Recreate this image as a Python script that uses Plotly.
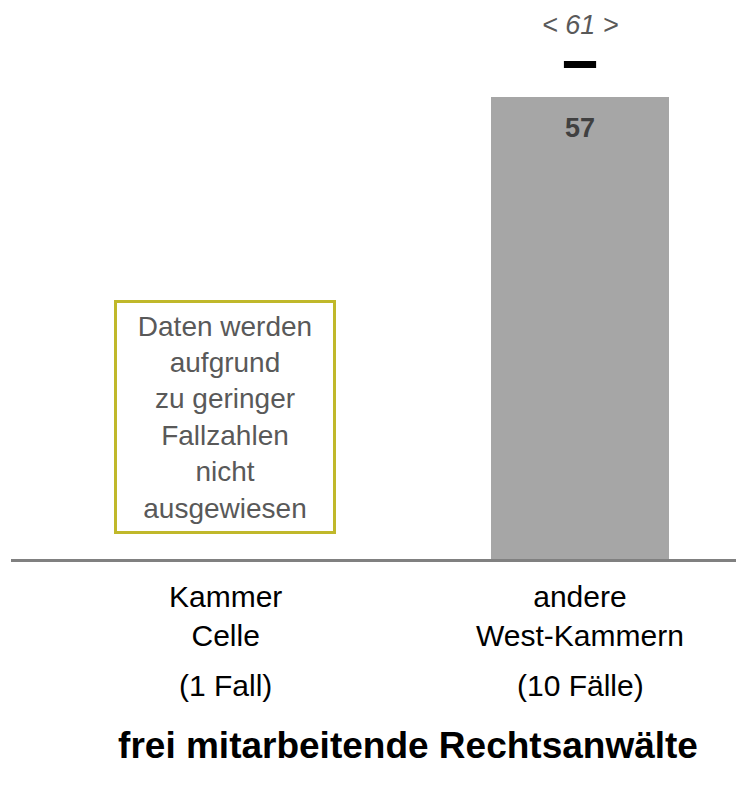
import plotly.graph_objects as go

# Daten
kategorien = ["Kammer<br>Celle", "andere<br>West-Kammern"]
fallzahlen = ["(1 Fall)", "(10 Fälle)"]
werte = [None, 57]
vergleich = [None, 61]
hinweis = "Daten werden<br>aufgrund<br>zu geringer<br>Fallzahlen<br>nicht<br>ausgewiesen"
titel = "frei mitarbeitende Rechtsanwälte"

FONT = "Liberation Sans, Arial, sans-serif"
C_BAR = "#a6a6a6"
C_TXT = "#595959"
C_BOX = "#c0b82a"

fig = go.Figure()

fig.add_trace(go.Bar(x=kategorien, y=werte, width=0.5,
                     marker=dict(color=C_BAR, line_width=0),
                     showlegend=False, hoverinfo="skip"))

fig.add_trace(go.Scatter(x=kategorien, y=vergleich, mode="markers",
                         marker=dict(symbol="line-ew", size=23,
                                     line=dict(color="black", width=7)),
                         showlegend=False, hoverinfo="skip"))

# Wert im Balken und Vergleichswert oben
for kat, w, v in zip(kategorien, werte, vergleich):
    if w is not None:
        fig.add_annotation(x=kat, y=w, text=f"<b>{w}</b>", showarrow=False,
                           yanchor="middle", yshift=-31,
                           font=dict(family=FONT, size=27, color="#404040"))
    if v is not None:
        fig.add_annotation(x=kat, y=v, text=f"<i>< {v} ></i>", showarrow=False,
                           yanchor="middle", yshift=40,
                           font=dict(family=FONT, size=27, color=C_TXT))

# Hinweisbox für Kammer Celle
fig.add_annotation(x=kategorien[0], xref="x", y=0.2586, yref="paper",
                   xanchor="center", yanchor="middle",
                   text=hinweis, showarrow=False, align="center",
                   width=210, height=222, borderpad=3,
                   bordercolor=C_BOX, borderwidth=3, bgcolor="white",
                   font=dict(family=FONT, size=28, color=C_TXT))

# Kategorie- und Fallzahl-Beschriftungen
for kat, n in zip(kategorien, fallzahlen):
    fig.add_annotation(x=kat, y=0, yref="paper", text=kat, showarrow=False,
                       yanchor="middle", yshift=-57,
                       font=dict(family=FONT, size=30, color="black"))
    fig.add_annotation(x=kat, y=0, yref="paper", text=n, showarrow=False,
                       yanchor="middle", yshift=-126,
                       font=dict(family=FONT, size=30, color="black"))

fig.update_xaxes(range=[-0.603, 1.462], showticklabels=False, ticks="",
                 showgrid=False, zeroline=False,
                 showline=True, linecolor="#808080", linewidth=2.5)
fig.update_yaxes(range=[0, 67.97], visible=False, showgrid=False)

fig.update_layout(
    width=736, height=782,
    margin=dict(l=3, r=0, t=0, b=231),
    plot_bgcolor="white", paper_bgcolor="white",
    bargap=0,
    title=dict(text=f"<b>{titel}</b>", x=0.5435, xanchor="center",
               y=0.0575, yanchor="middle", yref="container",
               font=dict(family=FONT, size=37, color="black")),
)

fig.write_html("out.html")
